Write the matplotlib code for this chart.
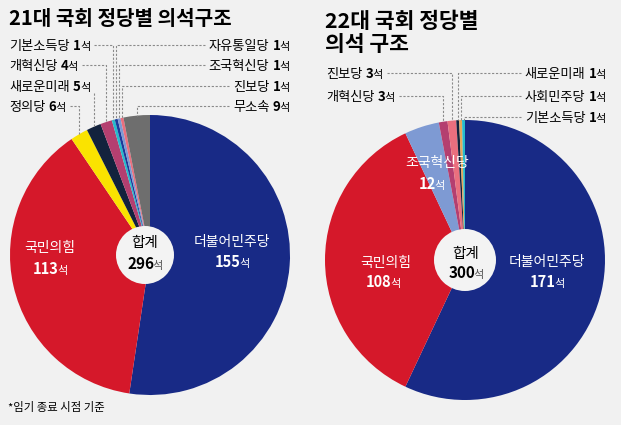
import matplotlib
matplotlib.use('Agg')
import numpy as np
import matplotlib.pyplot as plt
from matplotlib.patches import Circle

plt.rcParams['font.family'] = ['Noto Sans CJK KR', 'DejaVu Sans']

# 21대 국회 (임기 종료 시점)
parties21 = ['더불어민주당', '국민의힘', '정의당', '새로운미래', '개혁신당',
             '기본소득당', '자유통일당', '조국혁신당', '진보당', '무소속']
seats21 = [155, 113, 6, 5, 4, 1, 1, 1, 1, 9]

# 22대 국회
parties22 = ['더불어민주당', '국민의힘', '조국혁신당', '개혁신당', '진보당',
             '새로운미래', '사회민주당', '기본소득당']
seats22 = [171, 108, 12, 3, 3, 1, 1, 1]

party_colors = {
    '더불어민주당': '#182a86', '국민의힘': '#d5182a', '정의당': '#fae300',
    '새로운미래': '#13223d', '개혁신당': '#b43f70', '기본소득당': '#25bccc',
    '자유통일당': '#1d3a9a', '조국혁신당': '#7e9ad3', '진보당': '#ea6f7e',
    '무소속': '#6e6e6e', '사회민주당': '#e6a85a',
}

BG = '#f1f1f1'
fig = plt.figure(figsize=(6.21, 4.25), dpi=100, facecolor=BG)
ax = fig.add_axes([0, 0, 1, 1])
ax.set_facecolor(BG)
renderer = fig.canvas.get_renderer()


def rich(x, y, parts, ha='left', color='black'):
    # parts: (text, size, weight, color, gap after)
    texts, widths = [], []
    for s, size, weight, c, gap in parts:
        t = ax.text(0, y, s, fontsize=size, fontweight=weight, va='baseline',
                    ha='left', color=c or color, zorder=6)
        texts.append(t)
        widths.append(t.get_window_extent(renderer).width + gap)
    total = sum(widths)
    start = {'left': x, 'right': x - total, 'center': x - total / 2}[ha]
    x0 = start
    for t, w in zip(texts, widths):
        t.set_x(x0)
        x0 += w
    return start, start + total


def seat_label(x, y, name, n, ha, size=9.5, color='black'):
    return rich(x, y, [(name, size, 'normal', None, 3),
                       (str(n), size, 'bold', None, -0.5),
                       ('석', size - 1.5, 'normal', None, 0)], ha=ha, color=color)


def seat_num(x, y, n, color='white', size=10.5, unit_color=None):
    rich(x, y, [(str(n), size, 'bold', None, -1.5),
                ('석', 8, 'normal', unit_color, 0)], ha='center', color=color)


def draw_pie(parties, seats, center, radius):
    wedges, _ = ax.pie(seats, colors=[party_colors[p] for p in parties],
                       startangle=-90, counterclock=True, center=center,
                       radius=radius, wedgeprops=dict(linewidth=0))
    return {p: w for p, w in zip(parties, wedges)}


def callout(w, tx, ty, name, n, ha, line_y=None):
    lo, hi = seat_label(tx, ty + 4.5, name, n, ha)
    mid = np.deg2rad((w.theta1 + w.theta2) / 2)
    vx = w.center[0] + w.r * np.cos(mid)
    vy = w.center[1] + w.r * np.sin(mid)
    ly = ty if line_y is None else line_y
    ex = hi + 4 if ha == 'left' else lo - 4
    xs = [ex, vx, vx] if abs(ex - vx) > 2 else [vx, vx]
    ys = [ly, ly, vy] if len(xs) == 3 else [ly, vy]
    ax.plot(xs, ys, color='#8a8a8a', lw=0.8, ls=(0, (2, 1.5)), zorder=1)


# ---- 21대 ----
c21 = (150, 255)
w21 = draw_pie(parties21, seats21, c21, 140)
ax.add_patch(Circle((c21[0] - 5, c21[1]), 29, fc='#f3f3f3', ec='none', zorder=4))

callout(w21['기본소득당'], 9, 45, '기본소득당', 1, 'left')
callout(w21['개혁신당'], 9, 65, '개혁신당', 4, 'left')
callout(w21['새로운미래'], 9, 86, '새로운미래', 5, 'left', line_y=93)
callout(w21['정의당'], 9, 106, '정의당', 6, 'left')
callout(w21['자유통일당'], 290, 45, '자유통일당', 1, 'right')
callout(w21['조국혁신당'], 290, 65, '조국혁신당', 1, 'right')
callout(w21['진보당'], 290, 86, '진보당', 1, 'right')
callout(w21['무소속'], 290, 106, '무소속', 9, 'right')

ax.text(232, 242, '더불어민주당', fontsize=10, color='white', ha='center', va='center', zorder=6)
seat_num(232, 267, 155)
ax.text(50, 248, '국민의힘', fontsize=10, color='white', ha='center', va='center', zorder=6)
seat_num(50, 274, 113)
ax.text(145, 243, '합계', fontsize=10.5, color='black', ha='center', va='center', zorder=6)
seat_num(145, 269, 296, color='black', size=11, unit_color='#555555')

ax.text(9, 18, '21대 국회 정당별 의석구조', fontsize=14.5, fontweight='bold',
        ha='left', va='center', zorder=6)

# ---- 22대 ----
c22 = (465, 260)
w22 = draw_pie(parties22, seats22, c22, 140)
ax.add_patch(Circle(c22, 31, fc='#f3f3f3', ec='none', zorder=4))

callout(w22['진보당'], 326, 73, '진보당', 3, 'left')
callout(w22['개혁신당'], 326, 96, '개혁신당', 3, 'left')
callout(w22['새로운미래'], 606, 73, '새로운미래', 1, 'right')
callout(w22['사회민주당'], 606, 96, '사회민주당', 1, 'right')
callout(w22['기본소득당'], 606, 117, '기본소득당', 1, 'right')

ax.text(547, 262, '더불어민주당', fontsize=10, color='white', ha='center', va='center', zorder=6)
seat_num(547, 287, 171)
ax.text(386, 263, '국민의힘', fontsize=10, color='white', ha='center', va='center', zorder=6)
seat_num(383, 287, 108)
ax.text(437, 163, '조국혁신당', fontsize=10, color='white', ha='center', va='center', zorder=6)
seat_num(432, 189, 12)
ax.text(466, 254, '합계', fontsize=10.5, color='black', ha='center', va='center', zorder=6)
seat_num(466, 278, 300, color='black', size=11, unit_color='#555555')

ax.text(325, 21, '22대 국회 정당별', fontsize=15.5, fontweight='bold',
        ha='left', va='center', zorder=6)
ax.text(325, 44, '의석 구조', fontsize=15.5, fontweight='bold',
        ha='left', va='center', zorder=6)

ax.text(8, 407, '*임기 종료 시점 기준', fontsize=8.2, ha='left', va='center', zorder=6)

ax.set_xlim(0, 621)
ax.set_ylim(425, 0)
ax.set_aspect('auto')
ax.axis('off')

fig.savefig('out.png', dpi=100, facecolor=BG)
